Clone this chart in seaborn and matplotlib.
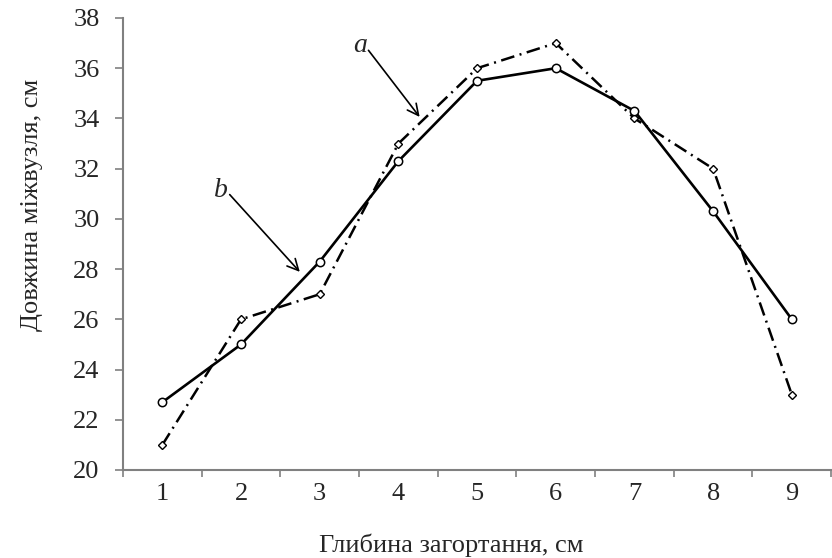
import matplotlib
matplotlib.use("Agg")
import matplotlib.pyplot as plt
import seaborn as sns
import pandas as pd
from matplotlib.ticker import FixedLocator

depth = [1, 2, 3, 4, 5, 6, 7, 8, 9]
series_a = [21.0, 26.0, 27.0, 33.0, 36.0, 37.0, 34.0, 32.0, 23.0]
series_b = [22.7, 25.0, 28.3, 32.3, 35.5, 36.0, 34.3, 30.3, 26.0]
y_ticks = [20, 22, 24, 26, 28, 30, 32, 34, 36, 38]

sns.set_theme(style="white")
plt.rcParams['font.family'] = ['Liberation Serif', 'DejaVu Serif']

df_a = pd.DataFrame({"x": depth, "y": series_a})
df_b = pd.DataFrame({"x": depth, "y": series_b})

fig = plt.figure(figsize=(8.32, 5.58), dpi=100)
ax = fig.add_axes([123/832, 1-470/558, 1-123/832 - 0.001, (470-18)/558])

sns.lineplot(data=df_a, x="x", y="y", ax=ax, color="black", linewidth=1.8,
             dashes=False, marker="D", markersize=3.6, markerfacecolor="white",
             markeredgecolor="black", markeredgewidth=1.0)
ax.lines[-1].set_dashes([5.5, 2.2, 0.8, 2.2])
sns.lineplot(data=df_b, x="x", y="y", ax=ax, color="black", linewidth=1.9,
             marker="o", markersize=6, markerfacecolor="white",
             markeredgecolor="black", markeredgewidth=1.1)

ax.set_xlim(0.5, 9.5)
ax.set_ylim(20, 38)
ax.set_yticks(y_ticks)
ax.set_xticks(depth)
ax.xaxis.set_minor_locator(FixedLocator([i + 0.5 for i in range(0, 10)]))
ax.tick_params(axis="x", which="major", length=0, pad=9, labelsize=19)
ax.tick_params(axis="x", which="minor", length=5, width=1.2, color="#808080", direction="out", bottom=True)
ax.tick_params(axis="y", which="major", length=5.8, width=1.2, color="#808080", direction="out", left=True, labelsize=19, pad=11)

for side in ["top", "right"]:
    ax.spines[side].set_visible(False)
for side in ["left", "bottom"]:
    ax.spines[side].set_color("#808080")
    ax.spines[side].set_linewidth(1.5)

ax.set_xlabel("Глибина загортання, см", fontsize=19)
ax.set_ylabel("Довжина міжвузля, см", fontsize=19)
ax.xaxis.set_label_coords(0.464, -0.14)
ax.yaxis.set_label_coords(-0.113, 0.586)

ax.annotate("a", xy=(4.27, 34.06), xytext=(3.51, 36.9), fontsize=20, style="italic",
            ha="center", va="center",
            arrowprops=dict(arrowstyle="->", color="black", lw=1.2, mutation_scale=20,
                            patchA=None, shrinkA=2, shrinkB=0, relpos=(1.0, 0.4)))
ax.annotate("b", xy=(2.747, 27.89), xytext=(1.744, 31.15), fontsize=20, style="italic",
            ha="center", va="center",
            arrowprops=dict(arrowstyle="->", color="black", lw=1.2, mutation_scale=20,
                            patchA=None, shrinkA=2, shrinkB=0, relpos=(1.0, 0.4)))

fig.savefig("out.png", dpi=100)
